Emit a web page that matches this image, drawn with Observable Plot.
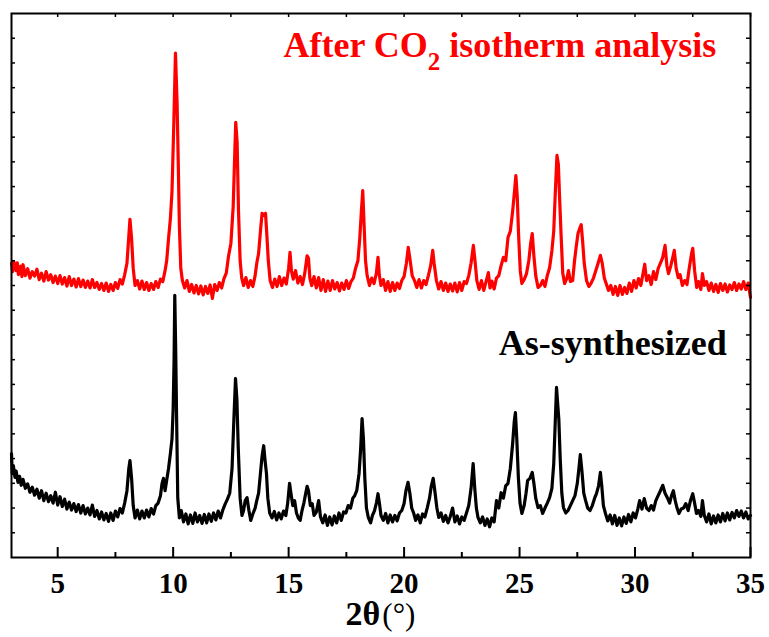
<!DOCTYPE html>
<html><head><meta charset="utf-8">
<script src="https://cdn.jsdelivr.net/npm/d3@7"></script>
<script src="https://cdn.jsdelivr.net/npm/@observablehq/plot@0.6"></script>
<style>body{margin:0;background:#fff}</style>
</head><body><div id="chart"></div>
<script>
// [2θ (°), intensity (a.u., stacked)]
const afterCO2 = [
[3.0,59.5],[3.05,57.8],[3.1,59.8],[3.2,58.0],[3.25,59.6],[3.3,57.2],[3.4,58.9],[3.45,56.8],[3.5,59.2],[3.6,57.0],[3.7,58.4],[3.8,56.5],[3.9,57.8],
[4.0,56.9],[4.1,58.3],[4.2,56.2],[4.3,57.5],[4.4,55.9],[4.5,57.8],[4.6,56.1],[4.7,57.2],[4.8,55.6],[4.9,56.9],
[5.0,55.4],[5.1,57.0],[5.2,55.3],[5.3,56.6],[5.4,54.9],[5.5,56.8],[5.6,55.0],[5.7,56.3],[5.8,54.7],[5.9,56.4],
[6.0,54.8],[6.1,56.1],[6.2,54.6],[6.3,55.9],[6.4,54.5],[6.5,56.2],[6.6,54.6],[6.7,55.6],[6.8,54.2],[6.9,55.4],
[7.0,54.0],[7.1,55.5],[7.2,53.8],[7.3,55.2],[7.4,54.0],[7.5,55.6],[7.6,54.4],[7.7,56.2],[7.8,55.3],[7.9,57.2],
[8.0,59.5],[8.08,65.0],[8.13,68.4],[8.2,64.5],[8.27,58.5],[8.35,55.0],[8.45,56.0],[8.55,54.3],[8.65,55.9],[8.75,54.2],[8.85,55.6],[8.95,54.0],
[9.05,55.4],[9.15,54.2],[9.25,55.8],[9.35,54.6],[9.45,56.3],[9.55,55.8],[9.65,58.0],[9.72,60.0],[9.8,64.5],[9.88,68.5],[9.95,74.0],
[10.03,88.0],[10.1,102.0],[10.17,92.0],[10.22,80.0],[10.27,67.0],[10.33,58.5],[10.4,56.0],[10.5,54.5],[10.6,56.0],[10.7,53.8],[10.8,55.2],[10.9,53.5],
[11.0,55.0],[11.1,53.3],[11.2,54.9],[11.3,53.1],[11.4,54.8],[11.5,53.4],[11.6,55.1],[11.7,52.4],[11.8,55.2],[11.9,54.0],
[12.0,55.6],[12.1,54.5],[12.2,56.4],[12.3,57.5],[12.4,61.0],[12.5,63.5],[12.6,71.0],[12.67,82.0],[12.71,88.0],[12.77,84.0],[12.83,70.0],[12.9,60.0],[12.97,56.5],
[13.05,55.0],[13.15,56.6],[13.25,54.6],[13.35,56.0],[13.45,54.8],[13.55,57.0],[13.62,59.5],[13.7,61.5],[13.78,66.0],[13.85,69.6],[13.92,69.2],
[14.0,69.6],[14.06,65.0],[14.12,60.0],[14.2,56.0],[14.3,54.6],[14.4,56.3],[14.5,54.8],[14.6,56.8],[14.7,55.0],[14.8,56.5],[14.9,55.3],
[15.0,58.5],[15.06,61.7],[15.12,58.0],[15.2,56.3],[15.3,58.0],[15.4,55.5],[15.5,56.8],[15.6,55.2],[15.7,57.5],[15.8,61.0],[15.86,60.5],[15.92,56.5],
[16.0,55.0],[16.1,56.8],[16.2,54.5],[16.3,56.6],[16.4,54.0],[16.5,56.2],[16.6,53.8],[16.7,55.9],[16.8,54.0],[16.9,56.0],
[17.0,54.3],[17.1,55.6],[17.2,53.9],[17.3,55.5],[17.4,54.2],[17.5,56.0],[17.6,54.4],[17.7,55.8],[17.8,56.5],[17.9,58.5],
[18.0,60.0],[18.08,64.5],[18.15,70.0],[18.21,74.2],[18.27,67.0],[18.33,60.0],[18.4,57.0],[18.5,55.0],[18.6,56.5],[18.7,55.4],[18.8,57.5],[18.87,60.7],[18.93,57.0],
[19.0,55.0],[19.1,56.2],[19.2,54.0],[19.3,55.8],[19.4,53.8],[19.5,55.6],[19.6,54.0],[19.7,55.5],[19.8,54.4],[19.9,56.0],
[20.0,56.8],[20.1,59.5],[20.18,62.7],[20.25,60.5],[20.35,57.0],[20.45,56.0],[20.55,54.6],[20.65,56.2],[20.75,54.5],[20.85,56.0],[20.95,55.2],
[21.05,57.0],[21.15,59.0],[21.24,62.1],[21.3,59.5],[21.4,56.0],[21.5,54.3],[21.6,55.8],[21.7,54.0],[21.8,55.5],[21.9,53.8],
[22.0,55.3],[22.1,53.9],[22.2,55.5],[22.3,53.7],[22.4,55.6],[22.5,54.0],[22.6,55.8],[22.7,55.4],[22.8,57.0],[22.9,59.5],
[23.0,63.1],[23.07,60.0],[23.15,56.0],[23.25,54.2],[23.35,56.0],[23.45,54.0],[23.55,55.8],[23.65,57.6],[23.72,54.5],[23.8,55.9],[23.9,54.3],
[24.0,56.5],[24.1,57.0],[24.2,59.0],[24.3,60.7],[24.4,60.0],[24.5,64.7],[24.6,66.0],[24.7,70.0],[24.78,74.0],[24.84,77.2],[24.9,73.0],[24.96,65.0],
[25.03,58.0],[25.1,55.4],[25.2,56.2],[25.3,57.4],[25.4,60.0],[25.48,63.5],[25.55,65.5],[25.62,61.0],[25.7,57.0],[25.8,54.6],[25.9,55.0],
[26.0,56.0],[26.1,54.8],[26.2,57.0],[26.3,58.6],[26.4,62.0],[26.48,66.0],[26.55,74.0],[26.62,81.3],[26.68,79.5],[26.74,72.0],[26.8,65.0],[26.87,57.5],[26.95,55.4],
[27.05,56.5],[27.12,58.0],[27.2,55.8],[27.3,56.0],[27.38,60.0],[27.45,62.7],[27.53,65.5],[27.6,66.5],[27.67,67.3],[27.73,64.0],[27.8,59.5],[27.9,56.0],
[28.0,54.8],[28.1,55.5],[28.2,56.5],[28.3,58.0],[28.4,59.5],[28.5,61.1],[28.58,59.5],[28.67,56.5],[28.75,55.4],[28.85,54.0],[28.95,55.0],
[29.05,53.2],[29.15,54.8],[29.25,53.0],[29.35,55.0],[29.45,53.2],[29.55,54.6],[29.65,53.4],[29.75,55.5],[29.85,53.8],[29.95,56.0],
[30.05,54.5],[30.15,56.4],[30.25,55.0],[30.35,57.5],[30.42,59.3],[30.5,56.0],[30.6,57.0],[30.7,55.2],[30.8,57.8],[30.9,56.2],
[31.0,58.4],[31.1,59.5],[31.2,60.7],[31.3,63.1],[31.38,59.0],[31.45,57.4],[31.55,59.0],[31.65,61.0],[31.7,62.1],[31.78,58.5],[31.87,56.6],[31.95,57.2],
[32.05,55.0],[32.15,56.0],[32.25,55.2],[32.35,58.6],[32.45,61.5],[32.5,62.5],[32.58,58.0],[32.67,54.6],[32.75,55.8],[32.85,54.2],[32.92,57.4],
[33.0,55.0],[33.1,55.8],[33.2,54.0],[33.3,55.5],[33.4,53.8],[33.5,55.2],[33.6,53.6],[33.7,55.4],[33.8,54.0],[33.9,55.3],
[34.0,53.7],[34.1,55.1],[34.2,54.2],[34.3,55.6],[34.4,54.0],[34.5,55.3],[34.6,54.3],[34.7,55.8],[34.8,54.2],[34.9,55.5],[34.95,54.0],[35.0,52.6]
];
const asSynthesized = [
[3.0,21.0],[3.03,17.0],[3.08,18.6],[3.15,16.2],[3.2,17.5],[3.28,15.2],[3.35,16.4],[3.42,14.6],[3.5,15.8],[3.6,14.0],[3.7,14.9],[3.8,13.2],[3.9,14.2],
[4.0,12.6],[4.1,13.8],[4.2,12.0],[4.3,13.5],[4.4,11.5],[4.5,13.0],[4.6,11.3],[4.7,12.5],[4.8,11.0],[4.9,13.2],
[5.0,10.6],[5.1,12.3],[5.2,10.3],[5.3,11.8],[5.4,9.8],[5.5,11.2],[5.6,9.6],[5.7,10.9],[5.8,9.3],[5.9,10.7],
[6.0,9.0],[6.1,10.5],[6.2,8.8],[6.3,10.0],[6.4,8.6],[6.5,10.6],[6.6,8.3],[6.7,9.5],[6.8,7.8],[6.9,9.2],
[7.0,7.6],[7.1,8.9],[7.2,7.3],[7.3,9.0],[7.4,7.5],[7.5,9.4],[7.6,8.2],[7.7,9.9],[7.8,9.0],[7.9,11.0],
[8.0,13.5],[8.08,18.0],[8.13,19.6],[8.2,16.0],[8.27,10.5],[8.35,8.0],[8.45,9.6],[8.55,7.8],[8.65,9.4],[8.75,8.0],[8.85,9.6],[8.95,8.2],
[9.05,9.9],[9.15,8.8],[9.25,10.5],[9.35,11.0],[9.45,12.5],[9.52,15.0],[9.58,16.0],[9.65,13.5],[9.72,15.6],[9.8,18.0],[9.88,21.0],[9.95,24.0],
[10.0,30.0],[10.04,40.0],[10.07,53.0],[10.11,42.0],[10.15,28.0],[10.2,12.0],[10.27,8.0],[10.35,9.5],[10.45,7.2],[10.55,8.8],[10.65,6.8],[10.75,8.6],[10.85,6.9],[10.95,9.0],
[11.05,7.2],[11.15,8.5],[11.25,6.9],[11.35,8.7],[11.45,7.0],[11.55,8.8],[11.65,7.3],[11.75,9.0],[11.85,7.6],[11.95,9.4],
[12.05,8.0],[12.15,9.6],[12.25,10.8],[12.35,11.8],[12.45,13.0],[12.55,18.0],[12.63,28.0],[12.7,36.2],[12.76,32.0],[12.82,22.0],[12.9,12.0],[12.98,8.5],
[13.05,9.5],[13.12,11.5],[13.2,12.1],[13.28,9.5],[13.36,7.5],[13.45,8.8],[13.55,10.0],[13.62,11.5],[13.7,13.0],[13.78,17.0],[13.85,20.5],[13.92,22.6],[13.98,19.6],
[14.04,17.0],[14.1,12.0],[14.18,9.0],[14.28,8.0],[14.38,9.3],[14.48,7.6],[14.58,9.0],[14.68,7.8],[14.78,9.4],[14.88,8.5],[14.96,11.0],
[15.04,15.0],[15.1,13.0],[15.18,10.5],[15.26,11.5],[15.34,9.0],[15.42,8.0],[15.5,7.5],[15.58,9.5],[15.66,11.0],[15.74,13.0],[15.8,14.4],[15.86,13.5],[15.94,10.5],
[16.02,10.9],[16.1,8.5],[16.2,9.2],[16.3,11.5],[16.38,8.2],[16.48,7.0],[16.58,8.6],[16.68,6.5],[16.78,8.2],[16.88,6.6],[16.98,8.4],
[17.08,7.0],[17.18,9.0],[17.28,7.5],[17.38,9.2],[17.48,9.0],[17.58,10.5],[17.68,10.0],[17.78,12.0],[17.86,12.5],[17.95,13.5],
[18.05,17.0],[18.12,22.0],[18.18,28.1],[18.24,24.0],[18.3,16.0],[18.37,10.0],[18.45,8.1],[18.55,7.0],[18.63,8.5],[18.72,9.5],[18.8,11.0],[18.87,12.9],[18.93,11.0],
[19.0,8.5],[19.1,7.5],[19.2,8.9],[19.3,7.0],[19.4,8.6],[19.5,7.2],[19.6,8.5],[19.7,7.4],[19.8,9.0],[19.9,9.5],
[20.0,10.9],[20.08,13.5],[20.17,15.2],[20.25,13.0],[20.33,10.0],[20.42,8.9],[20.5,7.5],[20.6,8.6],[20.7,7.0],[20.8,8.8],[20.9,8.2],
[21.0,10.0],[21.1,12.0],[21.18,14.5],[21.26,16.0],[21.33,13.5],[21.42,10.0],[21.5,8.1],[21.6,9.0],[21.7,7.3],[21.8,8.5],[21.9,7.0],
[22.0,8.3],[22.1,10.0],[22.2,7.2],[22.3,8.4],[22.4,6.8],[22.5,8.2],[22.6,7.5],[22.7,9.0],[22.8,10.5],[22.9,14.0],
[22.99,19.0],[23.06,14.0],[23.13,10.0],[23.2,8.1],[23.3,7.0],[23.4,8.2],[23.5,6.5],[23.6,7.8],[23.7,6.2],[23.8,8.0],[23.9,7.2],
[24.0,11.5],[24.1,10.0],[24.2,13.1],[24.3,12.0],[24.4,14.5],[24.5,15.0],[24.6,18.0],[24.7,23.0],[24.77,27.5],[24.82,29.3],[24.88,24.0],[24.95,16.0],
[25.02,11.0],[25.1,8.9],[25.2,10.5],[25.28,13.0],[25.35,15.6],[25.45,16.0],[25.55,17.2],[25.62,15.0],[25.7,12.0],[25.8,10.1],[25.9,10.5],
[26.0,8.9],[26.1,10.0],[26.2,11.0],[26.3,12.1],[26.4,14.0],[26.48,19.0],[26.55,28.0],[26.6,34.4],[26.65,31.1],[26.7,28.0],[26.76,20.0],[26.83,13.0],[26.9,10.1],
[27.0,9.0],[27.1,9.5],[27.2,10.5],[27.3,11.5],[27.4,12.5],[27.5,15.0],[27.57,18.0],[27.63,20.8],[27.7,17.5],[27.78,13.0],[27.86,11.5],[27.95,10.0],
[28.05,9.5],[28.15,10.5],[28.25,12.0],[28.33,12.9],[28.42,14.5],[28.5,17.2],[28.56,14.5],[28.63,10.5],[28.72,8.9],[28.82,7.4],[28.92,8.6],
[29.02,6.8],[29.12,8.5],[29.22,6.5],[29.32,8.0],[29.42,6.4],[29.52,8.2],[29.62,6.9],[29.72,8.7],[29.82,7.2],[29.92,9.0],
[30.02,8.0],[30.12,9.8],[30.2,11.5],[30.3,9.8],[30.4,11.9],[30.5,10.0],[30.6,9.5],[30.7,10.5],[30.8,9.6],[30.9,11.5],
[31.0,12.5],[31.1,13.5],[31.2,14.6],[31.3,13.0],[31.4,12.1],[31.5,11.0],[31.58,12.5],[31.66,13.5],[31.74,11.5],[31.82,10.0],[31.9,8.9],
[32.0,9.8],[32.1,10.0],[32.2,10.9],[32.3,9.5],[32.4,11.5],[32.5,12.9],[32.58,11.0],[32.66,8.9],[32.75,9.5],[32.85,8.3],[32.92,11.5],
[33.0,8.5],[33.1,7.2],[33.2,8.8],[33.3,6.8],[33.4,8.4],[33.5,7.0],[33.6,8.6],[33.7,7.2],[33.8,8.9],[33.9,7.4],
[34.0,9.0],[34.1,7.6],[34.2,9.1],[34.3,8.0],[34.4,9.5],[34.5,8.3],[34.6,9.4],[34.7,8.0],[34.8,9.2],[34.9,7.8],[35.0,8.5]
];
const xMajorTicks = [5, 10, 15, 20, 25, 30, 35];
const xMinorTicks = [7.5, 12.5, 17.5, 22.5, 27.5, 32.5];
const yTicks = [5, 10, 15, 20, 25, 30, 35, 40, 45, 50, 55, 60, 65, 70, 75, 80, 85, 90, 95, 100, 105];
const labelAfter = {x: 14.8, y: 101.1, main: "After CO", sub: "2", rest: " isotherm analysis"};
const labelAs = {x: 24.12, y: 40.85, text: "As-synthesized"};

const W = 769, H = 637, mL = 11, mR = 19, mT = 13, mB = 80;
const fw = W - mL - mR, fh = H - mT - mB;
const serif = "'Liberation Serif', 'Times New Roman', serif";

const plot = Plot.plot({
  width: W, height: H,
  marginLeft: mL, marginRight: mR, marginTop: mT, marginBottom: mB,
  x: {domain: [3, 35], axis: null},
  y: {domain: [0, 110], axis: null},
  style: {fontFamily: serif, background: "white", color: "black", overflow: "visible"},
  marks: [
    Plot.line(asSynthesized, {x: d => d[0], y: d => d[1], stroke: "black", strokeWidth: 3.2}),
    Plot.line(afterCO2, {x: d => d[0], y: d => d[1], stroke: "#ff0000", strokeWidth: 3.2}),
    Plot.ruleX(xMajorTicks, {x: d => d, insetTop: fh - 10, strokeWidth: 2}),
    Plot.ruleX(xMinorTicks, {x: d => d, insetTop: fh - 5, strokeWidth: 2}),
    Plot.ruleX(xMajorTicks.concat(xMinorTicks), {x: d => d, insetBottom: fh - 4, strokeWidth: 1.5}),
    Plot.ruleY(yTicks, {y: d => d, insetRight: fw - 4, strokeWidth: 1.5}),
    Plot.ruleY(yTicks, {y: d => d, insetLeft: fw - 4, strokeWidth: 1.5}),
    Plot.text(xMajorTicks, {x: d => d, text: d => String(d), frameAnchor: "bottom", lineAnchor: "top", dy: 15, fontSize: 29, fontWeight: "bold", fill: "black"}),
    Plot.frame({strokeWidth: 2})
  ]
});
document.getElementById("chart").appendChild(plot);

const svg = d3.select(plot);
const sx = plot.scale("x"), sy = plot.scale("y");
const t1 = svg.append("text")
  .attr("x", sx.apply(labelAfter.x)).attr("y", sy.apply(labelAfter.y)).attr("text-anchor", "start")
  .attr("fill", "#ff0000").attr("font-size", 36).attr("font-weight", "bold").attr("font-family", serif);
t1.append("tspan").text(labelAfter.main);
t1.append("tspan").attr("font-size", 25).attr("dy", 13).text(labelAfter.sub);
t1.append("tspan").attr("dy", -13).text(labelAfter.rest);

svg.append("text")
  .attr("x", sx.apply(labelAs.x)).attr("y", sy.apply(labelAs.y)).attr("text-anchor", "start")
  .attr("fill", "black").attr("font-size", 36).attr("font-weight", "bold").attr("font-family", serif)
  .text(labelAs.text);

const tt = svg.append("text")
  .attr("x", (mL + W - mR) / 2).attr("y", 625).attr("text-anchor", "middle")
  .attr("fill", "black").attr("font-family", serif);
tt.append("tspan").attr("font-weight", "bold").attr("font-size", 34).text("2θ");
tt.append("tspan").attr("font-size", 31).attr("dx", 2).text("(°)");
</script>
</body></html>
